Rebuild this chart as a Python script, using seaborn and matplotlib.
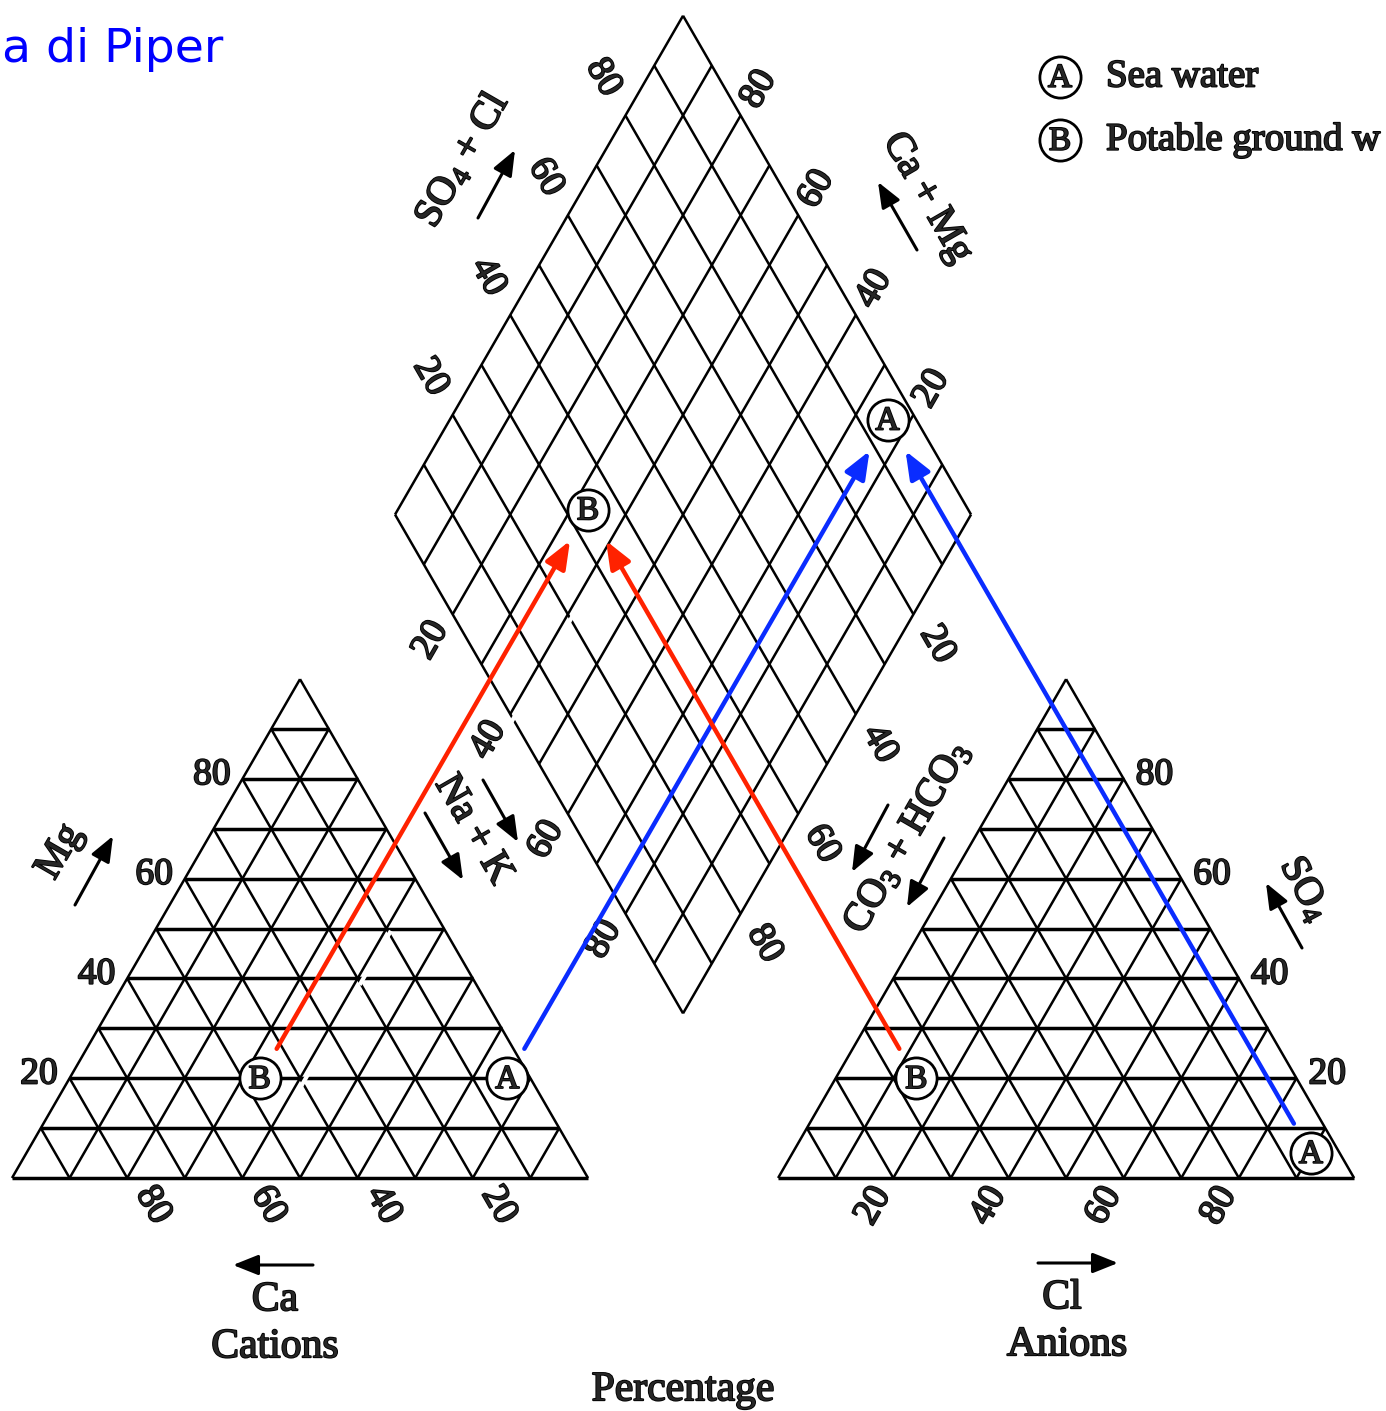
import numpy as np
import pandas as pd
import matplotlib
matplotlib.use("Agg")
import matplotlib.pyplot as plt
import matplotlib.patheffects as pe
from matplotlib.collections import LineCollection
from matplotlib.patches import FancyArrowPatch
import seaborn as sns

# ---------------- sample compositions (% of meq/l) ----------------
samples = ["A", "B"]
sample_names = ["Sea water", "Potable ground w"]
ca_pct = [4, 47]
mg_pct = [20, 20]
nak_pct = [76, 33]
hco3_pct = [5, 66]
so4_pct = [5, 20]
cl_pct = [90, 14]
sample_colors = ["#0a2cff", "#ff2200"]

tick_values = [20, 40, 60, 80]
erased_nak = 41          # white dashed trace left in the cation field

# ---------------- geometry ----------------
H = np.sqrt(3) / 2
GAP = 0.33
SIDE_PX = 576
X0_PX, Y0_PX = 12, 1178
W_PX, H_PX = 1386, 1411
B0 = np.array([1 + GAP / 2, GAP * H])   # bottom vertex of the diamond
VL = np.array([-0.5, H])
VR = np.array([0.5, H])


def px(x, y):
    """Pixel position on the saved image -> plot units."""
    return np.array([(x - X0_PX) / SIDE_PX, (Y0_PX - y) / SIDE_PX])


def off(dx, dy):
    """Pixel offset -> plot units."""
    return np.array([dx / SIDE_PX, -dy / SIDE_PX])


def cation_xy(ca, mg, nak):
    t = ca + mg + nak
    return np.array([(nak + mg / 2) / t, mg / t * H])


def anion_xy(hco3, so4, cl):
    t = hco3 + so4 + cl
    return np.array([1 + GAP + (cl + so4 / 2) / t, so4 / t * H])


def diamond_xy(nak_frac, s_frac):
    return B0 + (1 - nak_frac) * VL + s_frac * VR


# ---------------- style ----------------
sns.set_theme(style="white")
plt.rcParams["font.family"] = ["Liberation Serif", "DejaVu Serif"]
plt.rcParams["mathtext.fontset"] = "custom"
plt.rcParams["mathtext.rm"] = "Liberation Serif"
plt.rcParams["mathtext.it"] = "Liberation Serif:italic"
plt.rcParams["mathtext.bf"] = "Liberation Serif:bold"
INK = [pe.withStroke(linewidth=1.3, foreground="black")]

fig = plt.figure(figsize=(13.86, 14.11), dpi=100)
ax = fig.add_axes([0, 0, 1, 1])
lo = px(0, H_PX)
hi = px(W_PX, 0)
ax.set_xlim(lo[0], hi[0])
ax.set_ylim(lo[1], hi[1])
ax.set_aspect("equal")
ax.axis("off")


# ---------------- grids ----------------
def tri_segments(ox):
    horiz, diag = [], []
    for f in np.arange(1, 10) / 10:
        horiz.append([(ox + f / 2, f * H), (ox + 1 - f / 2, f * H)])
        diag.append([(ox + 1 - f, 0), (ox + (1 - f) / 2, (1 - f) * H)])
        diag.append([(ox + f, 0), (ox + f + (1 - f) / 2, (1 - f) * H)])
    horiz.append([(ox, 0), (ox + 1, 0)])
    diag.append([(ox, 0), (ox + 0.5, H)])
    diag.append([(ox + 1, 0), (ox + 0.5, H)])
    return horiz, diag


for ox in (0.0, 1 + GAP):
    hz, dg = tri_segments(ox)
    ax.add_collection(LineCollection(hz, colors="black", linewidths=2.5, zorder=2))
    ax.add_collection(LineCollection(dg, colors="black", linewidths=1.8, zorder=2))

dsegs = []
for a in np.arange(0, 11) / 10:
    s = B0 + a * VL
    dsegs.append([s, s + VR])
    s = B0 + a * VR
    dsegs.append([s, s + VL])
ax.add_collection(LineCollection(dsegs, colors="black", linewidths=1.8, zorder=2))

# white dashed trace over the grid
p0 = cation_xy(100 - erased_nak - 17, 17, erased_nak)
p1 = p0 + VR * (px(0, 590)[1] - p0[1]) / H
ax.plot([p0[0], p1[0]], [p0[1], p1[1]], color="white", lw=3.0,
        dashes=(5, 5), zorder=3)

# ---------------- tick labels ----------------
TICK_FS = 27
for v in tick_values:
    f = v / 100
    # Mg (left side of cation triangle)
    p = cation_xy(100 - v, v, 0) + off(-12, -4)
    ax.text(*p, str(v), ha="right", va="center", fontsize=TICK_FS, path_effects=INK)
    # SO4 (right side of anion triangle)
    p = anion_xy(0, v, 100 - v) + off(12, -4)
    ax.text(*p, str(v), ha="left", va="center", fontsize=TICK_FS, path_effects=INK)
    # Ca (base of cation triangle)
    p = cation_xy(v, 0, 100 - v) + off(26, 27)
    ax.text(*p, str(v), ha="center", va="center", rotation=-60,
            fontsize=TICK_FS, path_effects=INK)
    # Cl (base of anion triangle)
    p = anion_xy(100 - v, 0, v) + off(-20, 28)
    ax.text(*p, str(v), ha="center", va="center", rotation=60,
            fontsize=TICK_FS, path_effects=INK)
    # diamond: SO4 + Cl (upper left)
    p = B0 + VL + f * VR + off(-22, -38)
    ax.text(*p, str(v), ha="center", va="center", rotation=-60,
            fontsize=TICK_FS, path_effects=INK)
    # diamond: Ca + Mg (upper right)
    p = B0 + VR + f * VL + off(18, -26)
    ax.text(*p, str(v), ha="center", va="center", rotation=60,
            fontsize=TICK_FS, path_effects=INK)
    # diamond: Na + K (lower left)
    p = B0 + (1 - f) * VL + off(-22, 26)
    ax.text(*p, str(v), ha="center", va="center", rotation=60,
            fontsize=TICK_FS, path_effects=INK)
    # diamond: CO3 + HCO3 (lower right)
    p = B0 + (1 - f) * VR + off(24, 30)
    ax.text(*p, str(v), ha="center", va="center", rotation=-60,
            fontsize=TICK_FS, path_effects=INK)


# ---------------- axis titles and arrows ----------------
def black_arrow(x0, y0, x1, y1):
    ax.add_patch(FancyArrowPatch(px(x0, y0), px(x1, y1),
                                 arrowstyle="-|>,head_length=0.7,head_width=0.28",
                                 mutation_scale=22, lw=2.2, color="black",
                                 shrinkA=0, shrinkB=0, zorder=4))


TITLE_FS = 29
titles = [
    ("Mg", (60, 852), 60),
    (r"SO$_4$ + Cl", (463, 160), 60),
    ("Ca + Mg", (927, 198), -60),
    ("Na + K", (473, 830), -60),
    (r"CO$_3$ + HCO$_3$", (908, 838), 60),
    (r"SO$_4$", (1304, 890), -62),
]
for txt, (x, y), rot in titles:
    ax.text(*px(x, y), txt, ha="center", va="center", rotation=rot,
            rotation_mode="anchor", fontsize=TITLE_FS, path_effects=INK, zorder=4)

black_arrow(75, 905, 113, 836)
black_arrow(478, 218, 515, 150)
black_arrow(917, 250, 878, 182)
black_arrow(483, 780, 518, 842)
black_arrow(425, 813, 463, 880)
black_arrow(888, 805, 852, 872)
black_arrow(944, 838, 907, 907)
black_arrow(1302, 948, 1266, 883)
black_arrow(313, 1265, 233, 1265)
black_arrow(1038, 1263, 1118, 1263)

ax.text(*px(275, 1300), "Ca", ha="center", va="center", fontsize=30, path_effects=INK)
ax.text(*px(275, 1347), "Cations", ha="center", va="center", fontsize=30, path_effects=INK)
ax.text(*px(1062, 1298), "Cl", ha="center", va="center", fontsize=30, path_effects=INK)
ax.text(*px(1067, 1345), "Anions", ha="center", va="center", fontsize=30, path_effects=INK)
ax.text(*px(683, 1390), "Percentage", ha="center", va="center", fontsize=30, path_effects=INK)

ax.text(*px(2, 50), "a di Piper", ha="left", va="center",
        fontsize=34, color="#0000ff", family=["DejaVu Sans"])

# ---------------- samples ----------------
rows = []
for i, s in enumerate(samples):
    pc = cation_xy(ca_pct[i], mg_pct[i], nak_pct[i])
    pa = anion_xy(hco3_pct[i], so4_pct[i], cl_pct[i])
    nak_f = nak_pct[i] / (ca_pct[i] + mg_pct[i] + nak_pct[i])
    s_f = (so4_pct[i] + cl_pct[i]) / (hco3_pct[i] + so4_pct[i] + cl_pct[i])
    pd_ = diamond_xy(nak_f, s_f)
    for field, p in (("cation", pc), ("anion", pa), ("diamond", pd_)):
        rows.append(dict(sample=s, field=field, x=p[0], y=p[1]))
    # projection arrows into the diamond
    for p_from in (pc, pa):
        u = (pd_ - p_from) / np.linalg.norm(pd_ - p_from)
        start = p_from + u * 34 / SIDE_PX
        end = pd_ - u * 36 / SIDE_PX
        ax.add_patch(FancyArrowPatch(start, end,
                                     arrowstyle="-|>,head_length=0.7,head_width=0.28",
                                     mutation_scale=24, lw=3.2, color=sample_colors[i],
                                     shrinkA=0, shrinkB=0, zorder=5))
for i, s in enumerate(samples):
    p = px(1060, 77 + 63 * i)
    rows.append(dict(sample=s, field="legend", x=p[0], y=p[1]))
marks = pd.DataFrame(rows)

sns.scatterplot(data=marks, x="x", y="y", marker="o", s=880, color="white",
                edgecolor="black", linewidth=2.0, legend=False, ax=ax, zorder=6)
for _, r in marks.iterrows():
    ax.text(r.x, r.y - 1.5 / SIDE_PX, r["sample"], ha="center", va="center",
            fontsize=24, path_effects=INK, zorder=7)

for i, name in enumerate(sample_names):
    ax.text(*px(1106, 77 + 63 * i), name, ha="left", va="center",
            fontsize=28, path_effects=INK)

ax.set_xlabel("")
ax.set_ylabel("")
fig.savefig("out.png", dpi=100)
